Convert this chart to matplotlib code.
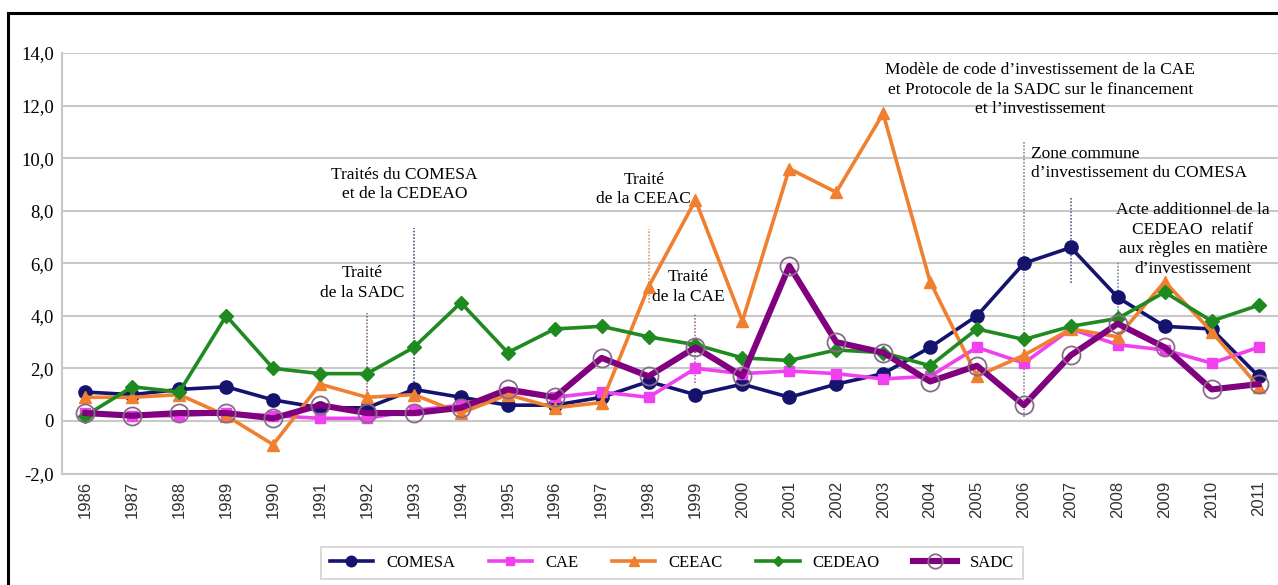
import matplotlib
matplotlib.use("Agg")
import matplotlib.pyplot as plt
from matplotlib.lines import Line2D
import numpy as np

years = [str(y) for y in range(1986, 2012)]
comesa = [1.1, 1.0, 1.2, 1.3, 0.8, 0.5, 0.5, 1.2, 0.9, 0.6, 0.6, 0.9, 1.5, 1.0, 1.4, 0.9, 1.4, 1.8, 2.8, 4.0, 6.0, 6.6, 4.7, 3.6, 3.5, 1.7]
cae = [0.3, 0.2, 0.2, 0.3, 0.2, 0.1, 0.1, 0.4, 0.6, 1.1, 0.9, 1.1, 0.9, 2.0, 1.8, 1.9, 1.8, 1.6, 1.7, 2.8, 2.2, 3.5, 2.9, 2.7, 2.2, 2.8]
ceeac = [0.9, 0.9, 1.0, 0.2, -0.9, 1.4, 0.9, 1.0, 0.3, 1.0, 0.5, 0.7, 5.1, 8.4, 3.8, 9.6, 8.7, 11.7, 5.3, 1.7, 2.5, 3.5, 3.2, 5.3, 3.4, 1.3]
cedeao = [0.2, 1.3, 1.1, 4.0, 2.0, 1.8, 1.8, 2.8, 4.5, 2.6, 3.5, 3.6, 3.2, 2.9, 2.4, 2.3, 2.7, 2.6, 2.1, 3.5, 3.1, 3.6, 3.9, 4.9, 3.8, 4.4]
sadc = [0.3, 0.2, 0.3, 0.3, 0.1, 0.6, 0.3, 0.3, 0.5, 1.2, 0.9, 2.4, 1.7, 2.8, 1.7, 5.9, 3.0, 2.6, 1.5, 2.1, 0.6, 2.5, 3.7, 2.8, 1.2, 1.4]

yticks = [-2, 0, 2, 4, 6, 8, 10, 12, 14]
ytick_labels = ["-2,0", "0", "2,0", "4,0", "6,0", "8,0", "10,0", "12,0", "14,0"]

# annotation markers: (year, y_top, y_bottom, color)
event_lines = [
    ("1992", 4.1, 0.0, "#8a6a8a"),
    ("1993", 7.35, 1.2, "#4a5a7a"),
    ("1998", 7.3, 4.5, "#d8a070"),
    ("1999", 4.1, 1.45, "#a070a0"),
    ("2006", 10.6, 0.15, "#8a8a9a"),
    ("2007", 8.5, 5.25, "#5a6a8a"),
    ("2008", 6.05, 4.2, "#7a8a9a"),
]

serif = ["Liberation Serif", "DejaVu Serif"]

fig = plt.figure(figsize=(12.78, 5.85), dpi=100)
ax = fig.add_axes([62/1278, 111.5/585, (1282-62)/1278, (532-111.5)/585])

x = np.arange(len(years))
ax.plot(x, comesa, color="#14146e", lw=2.6, marker="o", ms=9.5, mfc="#14146e", mec="#14146e", label="COMESA", zorder=3)
ax.plot(x, cae, color="#f040f0", lw=2.6, marker="s", ms=7, mfc="#f040f0", mec="#f040f0", label="CAE", zorder=3)
ax.plot(x, ceeac, color="#f08030", lw=2.6, marker="^", ms=9, mfc="#f08030", mec="#f08030", label="CEEAC", zorder=3)
ax.plot(x, cedeao, color="#1f8a1f", lw=2.6, marker="D", ms=7, mfc="#1f8a1f", mec="#1f8a1f", label="CEDEAO", zorder=3)
ax.plot(x, sadc, color="#800080", lw=4.4, marker="o", ms=13, mfc="none", mec="#8a6a8a", mew=1.3, label="SADC", zorder=4)

for yr, yt, yb, c in event_lines:
    i = years.index(yr)
    ax.plot([i, i], [yb, yt], color=c, lw=1.2, ls=(0, (1, 1)), zorder=2)

ax.set_xlim(-0.5, len(years) - 0.5)
ax.set_ylim(-2, 14)
ax.set_yticks(yticks)
ax.set_yticklabels(ytick_labels, fontfamily=serif, fontsize=13.5)
ax.set_xticks(x)
ax.set_xticklabels(years, rotation=90, fontfamily="Liberation Sans", fontsize=12, color="#333333")
ax.tick_params(axis="both", length=0)
ax.tick_params(axis="y", pad=6)
ax.tick_params(axis="x", pad=5)
ax.grid(axis="y", color="#c8c8c8", lw=1.5)
ax.set_axisbelow(True)
for s in ["top", "right"]:
    ax.spines[s].set_visible(False)
ax.spines["left"].set_color("#c8c8c8")
ax.spines["left"].set_linewidth(1.5)
ax.spines["bottom"].set_color("#c8c8c8")
ax.spines["bottom"].set_linewidth(1.5)

fs = 12.5
ls = 1.3
ax.text(years.index("1993") - 0.2, 9.0, "Traités du COMESA\net de la CEDEAO", ha="center", va="center", fontfamily=serif, fontsize=fs, linespacing=ls)
ax.text(years.index("1992") - 0.1, 5.25, "Traité\nde la SADC", ha="center", va="center", fontfamily=serif, fontsize=fs, linespacing=ls)
ax.text(years.index("1998") - 0.1, 8.8, "Traité\nde la CEEAC", ha="center", va="center", fontfamily=serif, fontsize=fs, linespacing=ls)
ax.text(years.index("1999") - 0.15, 5.1, "Traité\nde la CAE", ha="center", va="center", fontfamily=serif, fontsize=fs, linespacing=ls)
ax.text(years.index("2006") + 0.35, 12.6, "Modèle de code d\u2019investissement de la CAE\net Protocole de la SADC sur le financement\net l\u2019investissement", ha="center", va="center", fontfamily=serif, fontsize=fs, linespacing=ls)
ax.text(years.index("2006") + 0.15, 9.8, "Zone commune\nd\u2019investissement du COMESA", ha="left", va="center", fontfamily=serif, fontsize=fs, linespacing=ls)
ax.text(years.index("2008") + 1.6, 6.9, "Acte additionnel de la\nCEDEAO  relatif\naux règles en matière\nd\u2019investissement", ha="center", va="center", fontfamily=serif, fontsize=fs, linespacing=ls)

leg = fig.legend(loc="center", bbox_to_anchor=(672/1278, 1 - 563/585), ncol=5, frameon=True, fancybox=False,
                 prop={"family": serif, "size": 12}, handlelength=2.6, columnspacing=2.0, borderpad=0.5,
                 edgecolor="#c8c8c8", markerscale=0.8)
leg.get_frame().set_linewidth(1.2)

# outer frame (left and top)
fig.add_artist(Line2D([8/1278, 8/1278], [0, 1 - 13/585], color="black", lw=2.2, transform=fig.transFigure))
fig.add_artist(Line2D([8/1278, 1], [1 - 13/585, 1 - 13/585], color="black", lw=2.2, transform=fig.transFigure))

fig.savefig("out.png", dpi=100)
